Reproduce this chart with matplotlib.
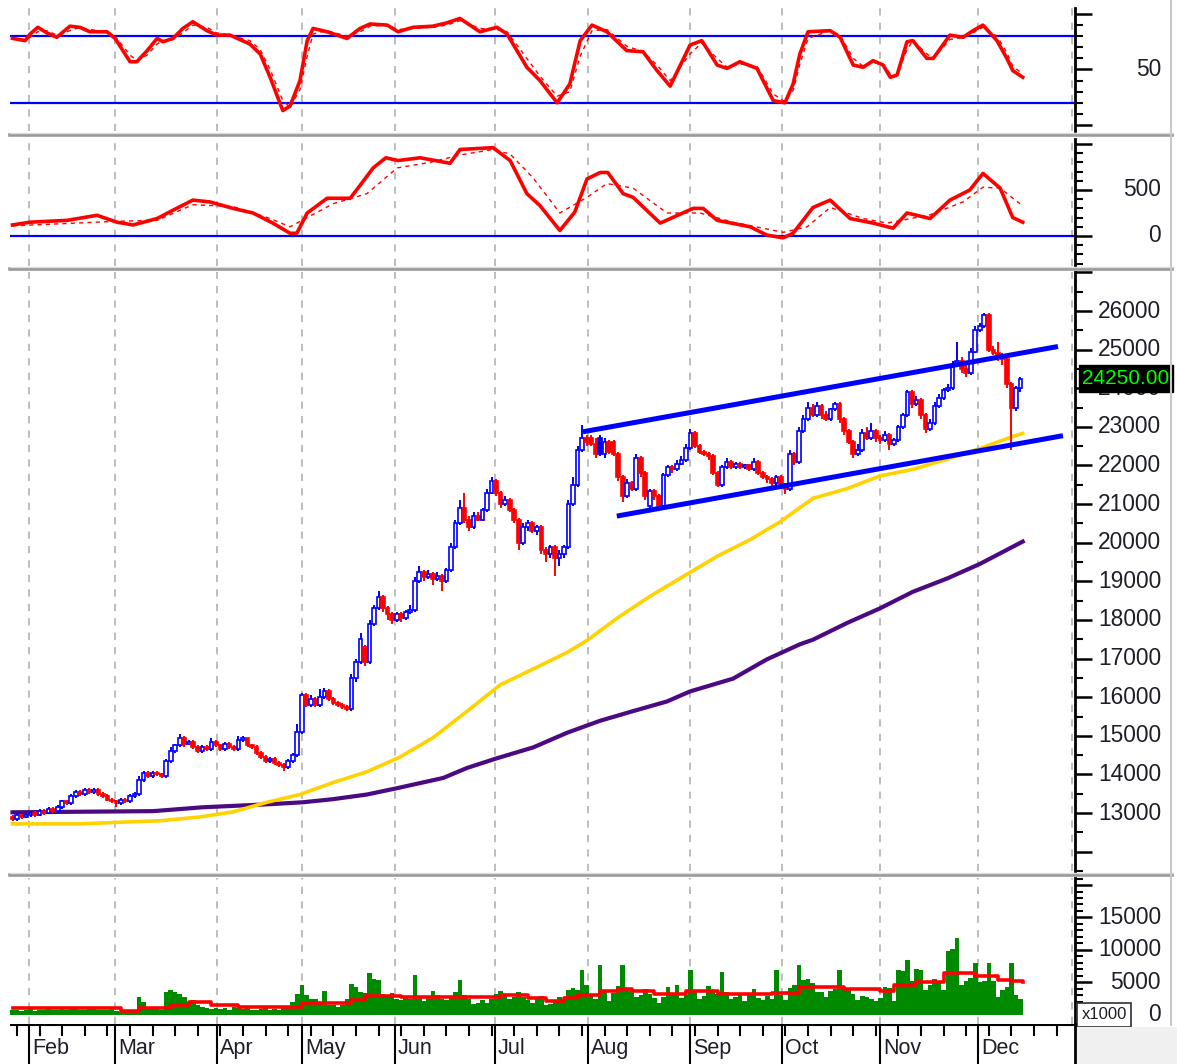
import numpy as np
import matplotlib
matplotlib.use("Agg")
import matplotlib.pyplot as plt
from matplotlib.lines import Line2D
from matplotlib.patches import Rectangle

plt.rcParams['font.family'] = ['Liberation Sans', 'DejaVu Sans']

# ---------------- data ----------------
months = ['Feb', 'Mar', 'Apr', 'May', 'Jun', 'Jul', 'Aug', 'Sep', 'Oct', 'Nov', 'Dec']
month_pos = [3.65, 22.7, 45.2, 64.0, 84.6, 106.7, 127.3, 149.9, 170.2, 191.9, 213.6]

opens = [12900, 12850, 12950, 12900,
         12950, 13000, 12950, 13050, 13000, 13100, 13050, 13150, 13300, 13250, 13450, 13550, 13500, 13600, 13550,
         13600, 13500, 13450, 13350,
         13300, 13250, 13350, 13300, 13450, 13500, 13850, 14050, 13950, 14050, 14000, 13950, 14350, 14600, 14750,
         14950, 14800, 14850, 14700, 14600, 14700, 14650, 14850,
         14750, 14650, 14800, 14700, 14650, 14900, 14950, 14750, 14700, 14550, 14450, 14350, 14400, 14300, 14250,
         14200, 14350, 14500,
         15100, 16050, 15800, 15950, 15800, 16000, 16150, 15950, 15850, 15800, 15750, 15700, 16500, 16900, 17300,
         16900, 17900, 18300, 18600, 18300, 18150,
         18000, 18150, 18050, 18200, 18250, 19000, 19250, 19100, 19200, 19050, 19150, 19000, 19300, 19900, 20500,
         20900, 20600, 20400, 20700, 20600, 20850, 21300,
         21600, 21300, 21000, 21100, 20850, 20600, 20000, 20400, 20500, 20300, 20400, 19800, 19700, 19900, 19600,
         19700, 19900, 21000, 21500, 22400, 22700,
         22700, 22550, 22700, 22300, 22600, 22600, 22300, 21700, 21200, 21550, 21400, 22200, 21800, 20950, 21350,
         21200, 20950, 21750, 21950, 21900, 22050, 22150, 22450,
         22850, 22500, 22350, 22300, 22250, 21800, 21500, 21950, 22100, 21950, 22050, 21950, 22000, 21900, 22100,
         21800, 21700, 21650, 21550, 21700,
         21500, 21400, 22300, 22100, 22900, 23200, 23500, 23300, 23550, 23300, 23200, 23450, 23600, 23200, 22900,
         22600, 22300, 22400, 22850, 22700, 22900, 22700,
         22650, 22800, 22550, 22650, 23000, 23300, 23900, 23600, 23700, 23300, 22950, 23100, 23550, 23750, 23950,
         24000, 24600, 24700, 24500, 24400, 24950, 25500,
         25600, 25900, 25000, 24900, 24850, 24750, 24100, 23500, 24000]

closes = [12850, 12950, 12900, 12950,
          13000, 12950, 13050, 13000, 13100, 13050, 13150, 13300, 13250, 13450, 13550, 13500, 13600, 13550, 13600,
          13500, 13450, 13350, 13300,
          13250, 13350, 13300, 13450, 13500, 13850, 14050, 13950, 14050, 14000, 13950, 14350, 14600, 14750, 14950,
          14800, 14850, 14700, 14600, 14700, 14650, 14850, 14750,
          14650, 14800, 14700, 14650, 14900, 14950, 14750, 14700, 14550, 14450, 14350, 14400, 14300, 14250, 14200,
          14350, 14500, 15100,
          16050, 15800, 15950, 15800, 16000, 16150, 15950, 15850, 15800, 15750, 15700, 16500, 16900, 17500, 16900,
          17900, 18300, 18600, 18300, 18150, 18000,
          18150, 18050, 18200, 18250, 19000, 19250, 19100, 19200, 19050, 19150, 19000, 19300, 19900, 20500, 20900,
          20600, 20400, 20700, 20600, 20850, 21300, 21600,
          21300, 21000, 21100, 20850, 20600, 20000, 20400, 20500, 20300, 20400, 19800, 19700, 19900, 19600, 19700,
          19900, 21000, 21500, 22400, 22700, 22600,
          22550, 22300, 22300, 22600, 22350, 22300, 21700, 21200, 21550, 21400, 22200, 21800, 21200, 21350, 21200,
          20950, 21750, 21950, 21900, 22050, 22150, 22450, 22850,
          22500, 22350, 22300, 22250, 21800, 21500, 21950, 22100, 21950, 22050, 21950, 22000, 21900, 22100, 21800,
          21700, 21650, 21550, 21700, 21500,
          21400, 22300, 22100, 22900, 23200, 23500, 23300, 23550, 23300, 23200, 23450, 23600, 23200, 22900, 22600,
          22300, 22400, 22850, 22700, 22900, 22700, 22650,
          22800, 22550, 22650, 23000, 23300, 23900, 23600, 23700, 23300, 22950, 23100, 23550, 23750, 23950, 24000,
          24600, 24700, 24500, 24400, 24950, 25500, 25600,
          25900, 25000, 24900, 24850, 24750, 24100, 23500, 24000, 24250]

highs = [12950, 13000, 12980, 13000,
         13050, 13050, 13100, 13100, 13150, 13150, 13200, 13350, 13350, 13500, 13600, 13600, 13650, 13650, 13650,
         13650, 13550, 13500, 13400,
         13350, 13400, 13400, 13500, 13550, 13950, 14100, 14100, 14100, 14100, 14050, 14400, 14700, 14800, 15050,
         15000, 14900, 14900, 14750, 14750, 14750, 14950, 14900,
         14800, 14850, 14850, 14750, 15000, 15000, 14950, 14800, 14750, 14600, 14500, 14450, 14450, 14350, 14300,
         14400, 14550, 15300,
         16100, 16100, 16050, 16000, 16200, 16250, 16200, 16000, 15900, 15850, 15800, 16600, 17000, 17650, 17350,
         18000, 18400, 18750, 18650, 18350, 18200,
         18200, 18200, 18250, 18400, 19100, 19400, 19300, 19300, 19250, 19250, 19200, 19350, 20000, 20600, 21100,
         21300, 20700, 20800, 20800, 20900, 21400, 21700,
         21650, 21350, 21200, 21150, 20900, 20650, 20500, 20600, 20550, 20450, 20450, 19900, 19950, 19950, 19800,
         19950, 21100, 21700, 22500, 23050, 22800,
         22800, 22700, 22800, 22700, 22650, 22650, 22350, 21750, 21650, 21600, 22300, 22250, 21850, 21400, 21400,
         21250, 21800, 22000, 22000, 22150, 22250, 22550, 22950,
         22900, 22550, 22400, 22350, 22300, 21850, 22000, 22200, 22150, 22100, 22100, 22050, 22050, 22200, 22150,
         21850, 21750, 21700, 21750, 21750,
         21550, 22400, 22350, 23000, 23300, 23650, 23600, 23650, 23600, 23400, 23500, 23650, 23650, 23250, 22950,
         22650, 22550, 22950, 23000, 23100, 22950, 22800,
         22900, 22850, 22700, 23050, 23350, 23950, 23950, 23800, 23750, 23350, 23200, 23650, 23850, 24000, 24100,
         24700, 25200, 24800, 24600, 25050, 25600, 25700,
         25950, 25950, 25100, 25200, 24900, 24800, 24150, 24050, 24300]

lows = [12800, 12800, 12850, 12880,
        12900, 12900, 12920, 12950, 12980, 13000, 13000, 13100, 13200, 13200, 13400, 13450, 13450, 13500, 13500,
        13450, 13400, 13300, 13250,
        13150, 13200, 13250, 13250, 13400, 13450, 13800, 13900, 13900, 13950, 13900, 13900, 14300, 14550, 14700,
        14700, 14750, 14650, 14550, 14550, 14600, 14600, 14700,
        14600, 14600, 14650, 14600, 14600, 14850, 14700, 14650, 14500, 14400, 14300, 14300, 14250, 14200, 14100,
        14150, 14300, 14450,
        15050, 15750, 15750, 15750, 15750, 15950, 15900, 15800, 15750, 15700, 15650, 15650, 16400, 16850, 16800,
        16850, 17850, 18250, 18200, 18000, 17900,
        17950, 17950, 18000, 18150, 18200, 18950, 19000, 19050, 18900, 19000, 18750, 18950, 19250, 19850, 20450,
        20500, 20300, 20350, 20550, 20550, 20800, 21250,
        21200, 20900, 20950, 20800, 20500, 19800, 19950, 20300, 20250, 20200, 19700, 19500, 19600, 19150, 19400,
        19600, 19850, 20950, 21450, 22350, 22500,
        22500, 22200, 22250, 22200, 22300, 22250, 21600, 21050, 21150, 21350, 21350, 21700, 21100, 20900, 21100,
        20850, 20900, 21700, 21800, 21850, 22000, 22100, 22400,
        22450, 22300, 22250, 22150, 21750, 21450, 21450, 21900, 21900, 21900, 21900, 21900, 21850, 21850, 21750,
        21650, 21550, 21450, 21500, 21400,
        21250, 21350, 22000, 22050, 22850, 23150, 23250, 23250, 23200, 23150, 23150, 23400, 23100, 22800, 22550,
        22200, 22250, 22350, 22650, 22650, 22600, 22550,
        22600, 22400, 22500, 22600, 22950, 23250, 23500, 23550, 23200, 22850, 22900, 23050, 23500, 23700, 23900,
        23950, 24550, 24400, 24300, 24350, 24900, 25450,
        25550, 24950, 24850, 24700, 24600, 24000, 22400, 23400, 23900]

volume = [700, 800, 600, 700, 900, 600, 700, 800, 900, 700, 800, 1200, 800, 1100, 900, 800, 700, 900, 1200, 800,
          700, 800, 900,
          600, 500, 700, 600, 700, 2800, 2000, 1200, 1000, 900, 800, 3600, 3800, 3500, 3300, 2800, 2000, 2300,
          1500, 1200, 1000, 900, 1100,
          900, 1100, 800, 1300, 1000, 900, 1300, 800, 700, 900, 1000, 800, 900, 700, 1200, 1400, 2000, 3200,
          4600, 3000, 2400, 2500, 1800, 3700, 1600, 1500, 1300, 1500, 2500, 4700, 4300, 3600, 3400, 6500, 5600,
          5400, 3300, 3100, 3400,
          2500, 2300, 2600, 2400, 6200, 2900, 2200, 2600, 3700, 3000, 2400, 2300, 2600, 3500, 5400, 3000, 2500,
          1700, 1900, 2300, 1800, 2400,
          3200, 3700, 3300, 2500, 2700, 3600, 2700, 2300, 1800, 2500, 2900, 1600, 1700, 2200, 2800, 2300, 3900,
          4100, 3800, 6900, 4600,
          3000, 2500, 7700, 3700, 2200, 3400, 4500, 7700, 3900, 3700, 2800, 3100, 4000, 3200, 2600, 1900, 2700,
          4300, 3000, 4600, 2600, 3100, 6900,
          3700, 2400, 2900, 4500, 3800, 3200, 6600, 3500, 2400, 2700, 3100, 2100, 3400, 4000, 2600, 2300, 2900,
          2500, 6900, 3100,
          2300, 4100, 4600, 7700, 5400, 5500, 4900, 3500, 3600, 2800, 3700, 4000, 6900, 4300, 3900, 3300, 2300,
          2900, 2700, 2500, 2100, 2600,
          4300, 4100, 2200, 6900, 6800, 8500, 5200, 7000, 6900, 3800, 4600, 5500, 5300, 3900, 9800, 10200, 11800,
          4600, 5300, 5700, 8000, 5100,
          5200, 8000, 5300, 2800, 3900, 4300, 8000, 3000, 2500]

vol_ma_day = [0, 24, 28, 35, 39, 44, 50, 64, 75, 78, 86, 108, 114, 118, 122, 125, 130, 134, 137, 142, 149,
              156, 168, 174, 184, 192, 195, 200, 206, 213, 218, 221, 223.5]
vol_ma = [1100, 600, 1100, 1540, 2000, 1540, 1300, 1850, 2300, 2900, 2800, 3100, 2600, 2150, 2600, 3100, 3700,
          4000, 3700, 3200, 3700, 3300, 3400, 4300, 4000, 3700, 4600, 5000, 6400, 6000, 5400, 5200, 5000]

ma_yel_day = [0, 14.9, 25.3, 32.6, 41.5, 48.8, 56.3, 63.6, 70.9, 78.4, 85.7, 93.0, 100.6, 107.9, 115.2, 122.7,
              127.1, 133.8, 141.0, 148.3, 155.9, 163.2, 169.8, 177.1, 184.6, 191.9, 199.2, 206.7, 214.0, 221.3, 223.5]
ma_yel = [12720, 12720, 12770, 12800, 12900, 13030, 13280, 13480, 13790, 14070, 14450, 14950, 15640, 16320,
          16730, 17160, 17470, 18050, 18610, 19120, 19650, 20080, 20540, 21150, 21400, 21730, 21900, 22160,
          22440, 22750, 22830]

ma_pur_day = [0, 31.1, 42.1, 57.0, 64.3, 70.9, 78.4, 85.7, 95.3, 100.6, 107.2, 115.2, 122.7, 130.0, 137.3,
              144.8, 149.9, 159.4, 166.9, 174.2, 177.1, 184.6, 191.9, 199.2, 206.7, 214.0, 223.5]
ma_pur = [13020, 13050, 13150, 13230, 13280, 13360, 13480, 13660, 13910, 14170, 14420, 14700, 15080, 15390,
          15640, 15890, 16150, 16480, 16980, 17370, 17490, 17920, 18300, 18730, 19070, 19450, 20030]

chan_up_day = [126.2, 231.3]
chan_up = [22873, 25081]
chan_lo_day = [133.7, 232.4]
chan_lo = [20690, 22772]

rsi_day = [0, 2.8, 3.9, 5.6, 7.6, 9.8, 12.7, 14.9, 17.1, 20.9,
           22.7, 26.0, 27.5, 29.8, 32.0, 33.3, 35.5, 37.7, 39.9, 43.0,
           45.2, 48.1, 52.5, 54.8, 57.0, 59.8, 61.4, 63.6, 65.2, 66.5,
           69.6, 74.0, 76.9, 79.1, 82.9, 85.3, 88.6, 93.0, 96.1, 99.0,
           103.4, 107.2, 109.4, 113.8, 116.7, 120.5, 123.3, 125.6, 128.2, 131.5,
           135.9, 139.5, 142.6, 145.5, 149.9, 152.5, 155.9, 158.1, 160.9, 164.7,
           168.3, 170.9, 172.7, 174.2, 176.0, 180.9, 183.1, 186.0, 188.2, 190.4,
           192.6, 194.2, 195.7, 197.9, 199.2, 202.3, 203.7, 207.4, 210.3, 212.5,
           214.7, 217.8, 220.0, 221.3, 223.5]
rsi = [78, 76, 82, 88, 83, 79, 89, 88, 84, 84,
       78, 57, 57, 67, 78, 75, 78, 87, 93, 85,
       81, 81, 73, 64, 43, 13, 17, 40, 76, 87,
       84, 78, 87, 91, 90, 84, 88, 89, 92, 96,
       84, 88, 82, 52, 40, 20, 37, 76, 90, 84,
       67, 66, 49, 35, 72, 76, 54, 51, 57, 51,
       22, 20, 37, 64, 84, 85, 79, 54, 52, 58,
       54, 43, 45, 75, 76, 60, 60, 81, 79, 85,
       90, 76, 60, 49, 43]
rsi_sig = [78, 77, 79, 84, 85, 81, 85, 88, 86, 84,
           80, 63, 58, 63, 73, 76, 77, 83, 90, 88,
           83, 81, 76, 68, 50, 22, 16, 32, 62, 82,
           85, 80, 84, 89, 90, 86, 87, 88, 90, 94,
           87, 86, 84, 60, 44, 26, 30, 62, 85, 86,
           71, 66, 54, 40, 64, 74, 60, 52, 55, 53,
           28, 21, 31, 55, 78, 85, 81, 60, 53, 56,
           55, 46, 45, 68, 76, 64, 60, 77, 79, 83,
           88, 80, 65, 53, 46]

osc_day = [0, 3.9, 12.1, 18.7, 23.1, 26.7, 32.0, 35.5, 39.9, 43.7,
           48.8, 53.2, 57.6, 61.4, 62.9, 65.2, 69.6, 74.7, 76.9, 79.8,
           82.6, 85.3, 90.2, 96.8, 99.0, 106.3, 110.1, 113.8, 116.7, 121.1,
           124.4, 127.1, 130.0, 131.7, 135.1, 137.3, 143.3, 148.3, 150.6, 152.8,
           155.9, 163.2, 166.9, 170.5, 172.7, 177.1, 180.9, 185.3, 190.4, 194.8,
           197.9, 203.0, 207.4, 211.8, 214.7, 218.5, 221.3, 223.5]
osc = [120, 150, 170, 225, 150, 120, 190, 280, 390, 370,
       300, 250, 140, 30, 30, 250, 410, 410, 550, 740,
       850, 820, 850, 790, 940, 960, 820, 460, 330, 60,
       260, 620, 690, 690, 460, 420, 140, 250, 300, 300,
       170, 100, 10, -20, 30, 310, 390, 190, 140, 85,
       250, 190, 390, 500, 680, 520, 200, 150]
osc_sig_day = [0, 23.1, 32.0, 39.9, 48.8, 57.0, 61.4, 70.9, 78.4, 85.1, 92.4, 99.0, 106.3, 110.1, 115.2,
               121.1, 127.1, 131.5, 137.3, 144.8, 152.1, 159.4, 170.5, 175.8, 180.9, 188.2, 193.5, 203.0,
               210.3, 214.7, 218.5, 222.9]
osc_sig = [110, 160, 170, 340, 320, 190, 100, 350, 460, 740, 800, 880, 940, 890, 630,
           250, 420, 570, 520, 250, 250, 150, 40, 100, 310, 190, 140, 230,
           370, 530, 520, 350]

last_price = 24250.00

# ---------------- layout helpers ----------------
W, H = 1177, 1064
X0, X1 = 10, 1075


def px2day(x):
    return (x - 12.5) / 4.52


def rect(t, b, l=X0, r=X1):
    return [l / W, 1 - b / H, (r - l) / W, (b - t) / H]


fig = plt.figure(figsize=(W / 100, H / 100), dpi=100)
fig.patch.set_facecolor('white')

TXT = '#1e1e2a'
LAB_X = (1161 - X0) / (X1 - X0)


def setup(ax, ylim, major, minor, labels):
    ax.set_xlim(px2day(X0), px2day(X1))
    ax.set_ylim(*ylim)
    for s in ['left', 'top', 'bottom']:
        ax.spines[s].set_visible(False)
    ax.spines['right'].set_linewidth(2)
    ax.yaxis.tick_right()
    ax.set_yticks(major)
    ax.set_yticks(minor, minor=True)
    ax.tick_params(axis='y', which='major', length=12, width=1.8, labelright=False, left=False)
    ax.tick_params(axis='y', which='minor', length=6, width=1.5, left=False)
    ax.set_xticks([])
    for m in month_pos:
        ax.axvline(m, color='#b8b8b8', ls=(0, (4, 4)), lw=1.3, zorder=0)
    ax.axvline(px2day(1072), color='#b8b8b8', ls=(0, (4, 4)), lw=1.3, zorder=0)
    for v, s in labels:
        ax.text(LAB_X, v, s, transform=ax.get_yaxis_transform(), ha='right', va='center',
                fontsize=16.4, color=TXT, clip_on=False)


# ---------------- panel 1: RSI ----------------
ax1 = fig.add_axes(rect(8, 131))
setup(ax1, (-5.4, 105.4), [0, 50, 100], np.arange(0, 101, 10), [(50, '50')])
ax1.axhline(80, color='#0000ff', lw=1.6)
ax1.axhline(20, color='#0000ff', lw=1.6)
ax1.plot(rsi_day, rsi_sig, color='#ff0000', lw=1, ls=(0, (3, 3)))
ax1.plot(rsi_day, rsi, color='#ff0000', lw=2.6)

# ---------------- panel 2: oscillator ----------------
ax2 = fig.add_axes(rect(139, 266))
setup(ax2, (-326, 1054), [0, 500, 1000], np.arange(-300, 1001, 100), [(500, '500'), (0, '0')])
ax2.axhline(0, color='#0000ff', lw=1.6)
ax2.plot(osc_sig_day, osc_sig, color='#ff0000', lw=1, ls=(0, (3, 3)))
ax2.plot(osc_day, osc, color='#ff0000', lw=2.6)

# ---------------- panel 3: price ----------------
ax3 = fig.add_axes(rect(272, 871))
setup(ax3, (11807, 27010), np.arange(12000, 27001, 1000), np.arange(11500, 27001, 500),
      [(v, str(v)) for v in range(13000, 26001, 1000)])
ax3.plot(ma_pur_day, ma_pur, color='#4b0a82', lw=3, zorder=2)
ax3.plot(ma_yel_day, ma_yel, color='#ffd200', lw=2.6, zorder=3)

days = np.arange(len(closes))
for i in days:
    o, c, hi, lo = opens[i], closes[i], highs[i], lows[i]
    prev = closes[i - 1] if i > 0 else o
    col = '#0000ff' if c >= prev else '#ff0000'
    ax3.plot([i, i], [lo, hi], color=col, lw=1.4, zorder=4, solid_capstyle='butt')
    bot = min(o, c)
    hgt = max(abs(c - o), 25)
    face = 'white' if c > o else col
    ax3.add_patch(Rectangle((i - 0.4, bot), 0.8, hgt, facecolor=face, edgecolor=col, lw=1.2, zorder=5))

ax3.plot(chan_up_day, chan_up, color='#0000ff', lw=3.6, zorder=6, solid_capstyle='butt')
ax3.plot(chan_lo_day, chan_lo, color='#0000ff', lw=3.6, zorder=6, solid_capstyle='butt')

ax3.text((1126 - X0) / (X1 - X0), last_price, '%.2f' % last_price, transform=ax3.get_yaxis_transform(),
         ha='center', va='center', fontsize=15, color='#00ff00', clip_on=False, zorder=10,
         bbox=dict(boxstyle='square,pad=0.18', facecolor='black', edgecolor='black'))

# ---------------- panel 4: volume ----------------
ax4 = fig.add_axes(rect(878, 1024))
setup(ax4, (-1385, 21077), np.arange(0, 20001, 5000), np.arange(0, 21001, 1000),
      [(15000, '15000'), (10000, '10000'), (5000, '5000'), (0, '0')])
ax4.bar(days, volume, width=1.0, color='#008a00', linewidth=0, zorder=2)
ax4.plot(vol_ma_day, vol_ma, color='#ff0000', lw=2.6, drawstyle='steps-post', zorder=3)
ax4.text((1104 - X0) / (X1 - X0), 0, 'x1000', transform=ax4.get_yaxis_transform(), ha='center',
         va='center', fontsize=12, color=TXT, clip_on=False,
         bbox=dict(boxstyle='square,pad=0.25', facecolor='white', edgecolor='#303030', lw=1.2))

# ---------------- time axis ----------------
axx = fig.add_axes(rect(1024, 1064))
axx.set_xlim(px2day(X0), px2day(X1))
axx.set_ylim(0, 1)
axx.axis('off')
axx.axhline(1, color='black', lw=2.2)
for w in np.arange(1, 235, 5):
    axx.plot([w, w], [1, 0.72], color='black', lw=1.5)
for m, name in zip(month_pos, months):
    axx.plot([m, m], [1, 0], color='black', lw=1.5)
    axx.text(m + 0.7, 0.38, name, ha='left', va='center', fontsize=15.5, color=TXT)
axx.plot([px2day(X1)] * 2, [1, 0], color='black', lw=2, clip_on=False)

# separators and frame
for y in [135, 269, 875]:
    fig.add_artist(Line2D([X0 / W, 1172 / W], [1 - y / H, 1 - y / H], color='#9a9a9a', lw=2.6))
    fig.add_artist(Line2D([X0 / W, 1172 / W], [1 - (y - 2) / H, 1 - (y - 2) / H], color='#dcdcdc', lw=1))
fig.add_artist(Line2D([1171 / W, 1171 / W], [1 - 1025 / H, 1.0], color='#c8c8c8', lw=1.5))
fig.add_artist(Rectangle((1077 / W, 0), (W - 1077) / W, (1064 - 1027) / H, transform=fig.transFigure,
                         facecolor='#f0f0f0', edgecolor='none'))

fig.savefig('out.png', dpi=100)
